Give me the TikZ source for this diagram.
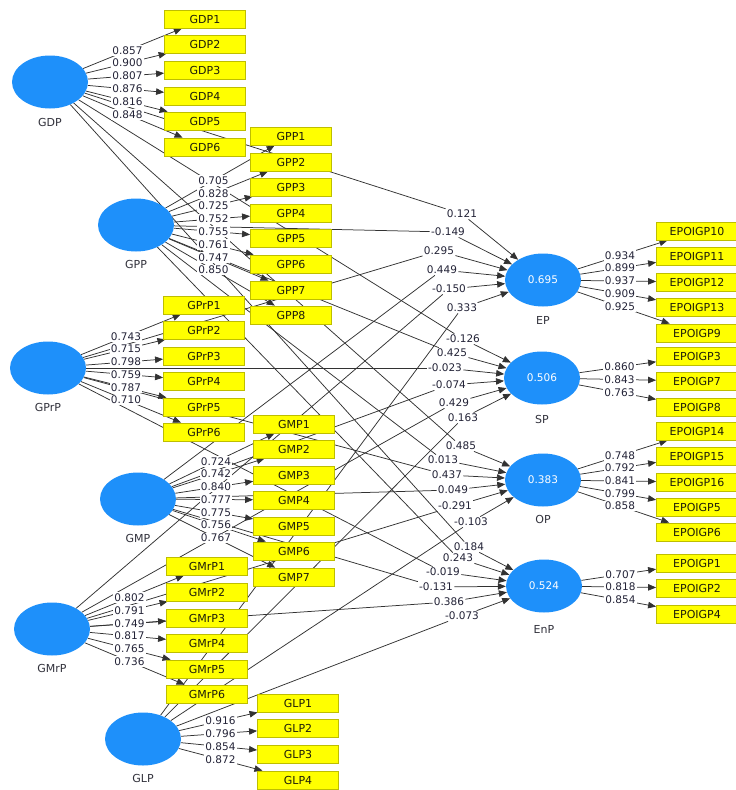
\documentclass[tikz,border=0pt]{standalone}
\usepackage{fontspec}
\setmainfont{DejaVu Sans}
\usetikzlibrary{shapes.geometric,arrows.meta,calc}
\pgfdeclarelayer{bg}
\pgfdeclarelayer{paper}
\pgfsetlayers{paper,bg,main}
\definecolor{lvblue}{RGB}{30,144,250}
\definecolor{boxfill}{RGB}{255,255,0}
\definecolor{boxline}{RGB}{190,190,0}
\definecolor{linecol}{RGB}{50,50,50}
\definecolor{numcol}{RGB}{35,35,55}
\definecolor{namecol}{RGB}{50,50,60}
\definecolor{boxtext}{RGB}{30,30,10}
\tikzset{
  lat/.style={ellipse, fill=lvblue, minimum width=76pt, minimum height=53pt, inner sep=0pt,
    text=white, font=\fontsize{10.5}{12}\selectfont},
  ind/.style={rectangle, fill=boxfill, draw=boxline, line width=0.8pt, minimum width=81pt,
    minimum height=18pt, inner sep=0pt, text=boxtext, font=\fontsize{11}{12}\selectfont},
  lname/.style={text=namecol, font=\fontsize{11}{12}\selectfont},
  coef/.style={fill=white, inner sep=1.2pt, text=numcol, font=\fontsize{10.5}{12}\selectfont},
  conn/.style={draw=linecol, line width=0.75pt},
  arr/.style={conn, -{Triangle[length=8pt,width=6.5pt]}},
}
\newcommand\indset[4]{%
  \foreach \n/\yy/\v in {#4}{%
    \node[ind] (#2\n) at (#3,\yy) {#2\n};
    \begin{pgfonlayer}{bg}\draw[arr] (#1) -- (#2\n);\end{pgfonlayer}
    \node[coef] (#2\n-l) at ($(#1.center)!0.5!(#2\n.center)$) {\v};
  }}
\begin{document}
\begin{tikzpicture}[x=1pt,y=-1pt]
\useasboundingbox (0,0) rectangle (736,790);
\begin{pgfonlayer}{paper}
\fill[white] (0,0) rectangle (736,790);
\end{pgfonlayer}

% exogenous latent variables
\node[lat] (GDP)  at (50,82)  {};  \node[lname] (GDPn)  at (50,122)  {GDP};
\node[lat] (GPP)  at (136,225) {}; \node[lname] (GPPn)  at (136,264) {GPP};
\node[lat] (GPrP) at (48,368) {};  \node[lname] (GPrPn) at (48,407)  {GPrP};
\node[lat] (GMP)  at (138,499) {}; \node[lname] (GMPn)  at (138,538) {GMP};
\node[lat] (GMrP) at (52,629) {};  \node[lname] (GMrPn) at (52,668)  {GMrP};
\node[lat] (GLP)  at (143,739) {}; \node[lname] (GLPn)  at (143,778) {GLP};

% endogenous latent variables
\node[lat] (EP)  at (543,280) {0.695}; \node[lname] (EPn)  at (543,320) {EP};
\node[lat] (SP)  at (542,378) {0.506}; \node[lname] (SPn)  at (542,419) {SP};
\node[lat] (OP)  at (543,480) {0.383}; \node[lname] (OPn)  at (543,519) {OP};
\node[lat] (EnP) at (544,586) {0.524}; \node[lname] (EnPn) at (544,629) {EnP};

% indicators and loadings
\indset{GDP}{GDP}{205}{1/19/0.857,2/44/0.900,3/70/0.807,4/96/0.876,5/121/0.816,6/147/0.848}
\indset{GPP}{GPP}{291}{1/136/0.705,2/162/0.828,3/187/0.725,4/213/0.752,5/238/0.755,6/264/0.761,7/290/0.747,8/315/0.850}
\indset{GPrP}{GPrP}{204}{1/305/0.743,2/330/0.715,3/356/0.798,4/381/0.759,5/407/0.787,6/432/0.710}
\indset{GMP}{GMP}{294}{1/424/0.724,2/449/0.742,3/475/0.840,4/500/0.777,5/526/0.775,6/551/0.756,7/577/0.767}
\indset{GMrP}{GMrP}{207}{1/566/0.802,2/592/0.791,3/618/0.749,4/643/0.817,5/669/0.765,6/694/0.736}
\indset{GLP}{GLP}{298}{1/703/0.916,2/728/0.796,3/754/0.854,4/780/0.872}
\indset{EP}{EPOIGP}{697}{10/231/0.934,11/256/0.899,12/282/0.937,13/307/0.909,9/333/0.925}
\indset{SP}{EPOIGP}{697}{3/356/0.860,7/381/0.843,8/407/0.763}
\indset{OP}{EPOIGP}{697}{14/431/0.748,15/456/0.792,16/482/0.841,5/507/0.799,6/532/0.858}
\indset{EnP}{EPOIGP}{697}{1/563/0.707,2/588/0.818,4/614/0.854}

% structural paths
\foreach \s/\t/\px/\py/\v [count=\k] in {
  GDP/EP/462/214/0.121, GPP/EP/448/232/-0.149, GPrP/EP/439/251/0.295,
  GMP/EP/442/270/0.449, GMrP/EP/449/289/-0.150, GLP/EP/462/308/0.333,
  GDP/SP/463/339/-0.126, GPP/SP/452/353/0.425, GPrP/SP/445/368/-0.023,
  GMP/SP/449/385/-0.074, GMrP/SP/454/403/0.429, GLP/SP/463/418/0.163,
  GDP/OP/461/446/0.485, GPP/OP/443/460/0.013, GPrP/OP/447/475/0.437,
  GMP/OP/453/490/0.049, GMrP/OP/455/506/-0.291, GLP/OP/471/522/-0.103,
  GDP/EnP/469/547/0.184, GPP/EnP/458/558/0.243, GPrP/EnP/443/572/-0.019,
  GMP/EnP/436/587/-0.131, GMrP/EnP/449/602/0.386, GLP/EnP/462/616/-0.073}{
  \node[coef] (p\k) at (\px,\py) {\v};
  \begin{pgfonlayer}{bg}
    \draw[conn] (\s) -- (p\k);
    \draw[arr] (p\k) -- (\t);
  \end{pgfonlayer}
}
\end{tikzpicture}
\end{document}
